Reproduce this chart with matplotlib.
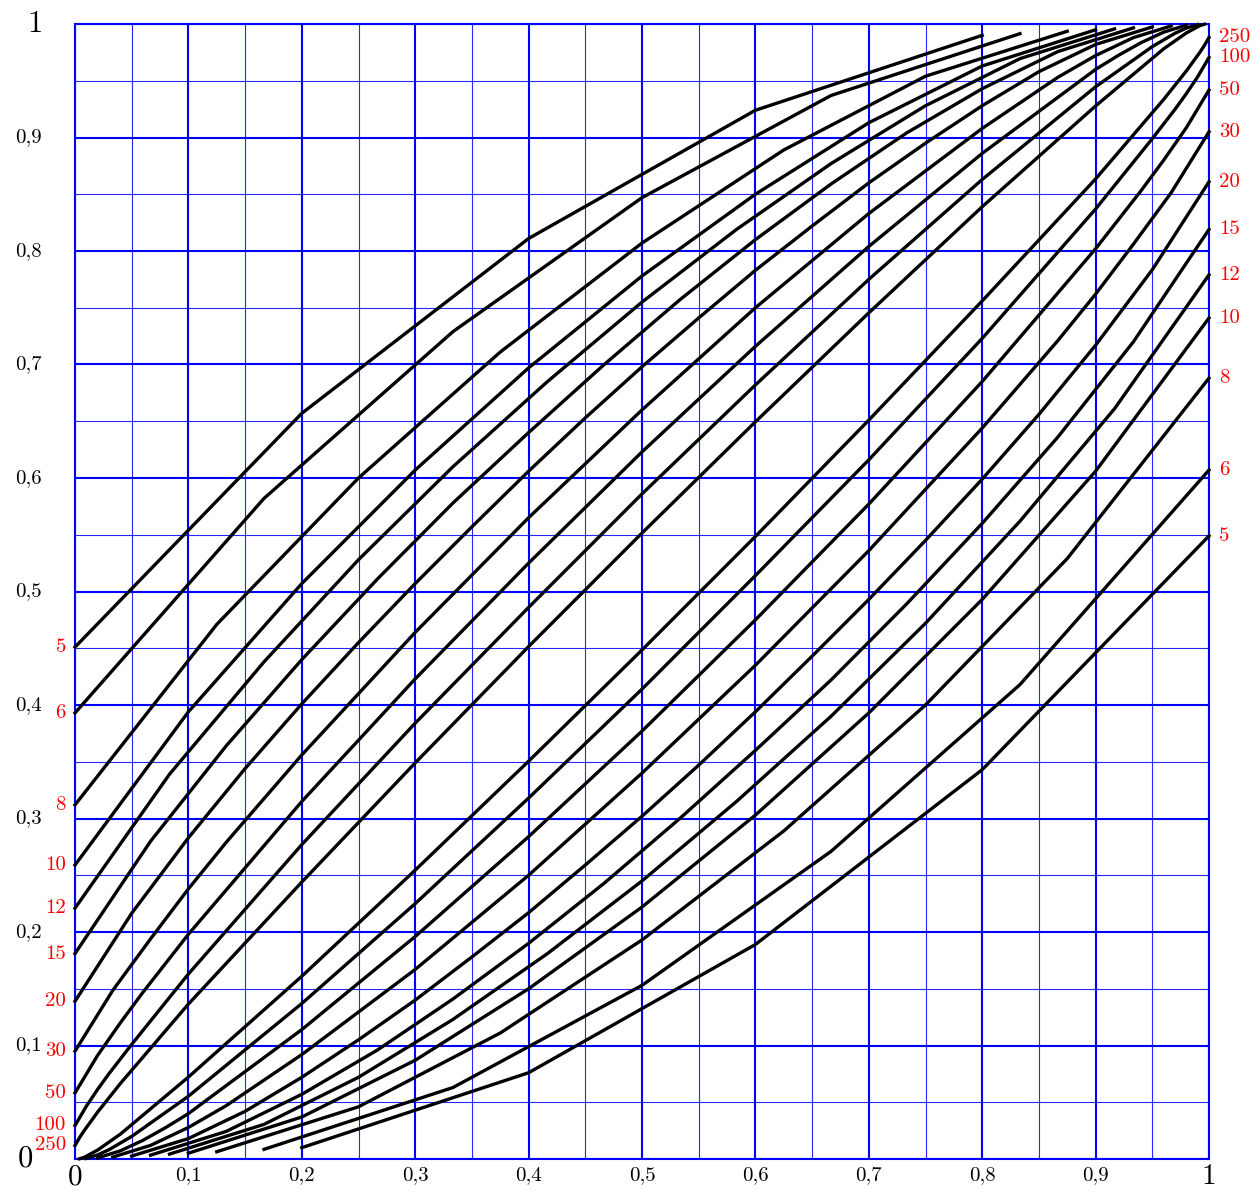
import numpy as np
import matplotlib.pyplot as plt

plt.rcParams['font.family'] = 'cmr10'
plt.rcParams['axes.unicode_minus'] = False

# sample sizes, one pair of bound curves per size
sizes = [5, 6, 8, 10, 12, 15, 20, 30, 50, 100, 250]

# number of successes k at each vertex of the upper curves
upper_k = {
    5: list(range(5)),
    6: list(range(6)),
    8: list(range(8)),
    10: list(range(10)),
    12: list(range(12)),
    15: list(range(15)),
    20: list(range(20)),
    30: [0, 1, 2, 3, 4, 6, 9, 12, 15, 18, 21, 24, 26, 27, 28, 29],
    50: [0, 1, 2, 3, 5, 10, 15, 20, 25, 30, 35, 40, 45, 46, 47, 48, 49],
    100: [0, 1, 2, 3, 5, 10, 20, 30, 40, 50, 60, 70, 80, 90, 95, 97, 98, 99],
    250: [0, 1, 2, 5, 10, 25, 50, 75, 100, 125, 150, 175, 200, 225, 240, 245, 248, 249],
}

# upper bound of p for each vertex
upper_p = {
    5: [0.451, 0.657, 0.811, 0.924, 0.990],
    6: [0.393, 0.582, 0.729, 0.847, 0.937, 0.9915],
    8: [0.312, 0.471, 0.600, 0.711, 0.807, 0.889, 0.954, 0.9936],
    10: [0.259, 0.394, 0.507, 0.607, 0.697, 0.778, 0.850, 0.913, 0.963, 0.9949],
    12: [0.221, 0.339, 0.438, 0.528, 0.610, 0.685, 0.755, 0.819, 0.877, 0.928, 0.9695, 0.9957],
    15: [0.181, 0.280, 0.364, 0.440, 0.511, 0.578, 0.640, 0.700, 0.757, 0.810, 0.859,
         0.904, 0.943, 0.9757, 0.9966],
    20: [0.139, 0.2165, 0.283, 0.344, 0.401, 0.455, 0.507, 0.557, 0.606, 0.653, 0.698,
         0.741, 0.783, 0.822, 0.860, 0.895, 0.928, 0.958, 0.982, 0.9974],
    30: [0.095, 0.1486, 0.194, 0.238, 0.279, 0.356, 0.464, 0.565, 0.660, 0.750, 0.833,
         0.908, 0.953, 0.9722, 0.988, 0.9983],
    50: [0.0582, 0.0914, 0.120, 0.147, 0.198, 0.315, 0.423, 0.525, 0.623, 0.716, 0.804,
         0.886, 0.960, 0.9723, 0.9835, 0.9928, 0.9990],
    100: [0.0295, 0.0465, 0.0614, 0.0752, 0.101, 0.163, 0.277, 0.384, 0.486, 0.586, 0.682,
          0.775, 0.863, 0.9447, 0.9801, 0.9918, 0.9964, 0.9995],
    250: [0.0119, 0.0188, 0.0249, 0.0414, 0.0665, 0.1365, 0.244, 0.349, 0.4515, 0.5515,
          0.6495, 0.7455, 0.839, 0.9278, 0.9781, 0.9921, 0.99858, 0.9998],
}

# number of successes k at each vertex of the lower curves
lower_k = {
    5: list(range(1, 6)),
    6: list(range(1, 7)),
    8: list(range(1, 9)),
    10: list(range(1, 11)),
    12: list(range(1, 13)),
    15: list(range(1, 16)),
    20: list(range(1, 21)),
    30: [1, 2, 3, 4, 6, 9, 12, 15, 18, 21, 24, 26, 27, 28, 29, 30],
    50: [1, 2, 3, 4, 5, 10, 15, 20, 25, 30, 35, 40, 45, 47, 48, 49, 50],
    100: [1, 2, 3, 5, 10, 20, 30, 40, 50, 60, 70, 80, 90, 95, 97, 98, 99, 100],
    250: [1, 2, 5, 10, 25, 50, 75, 100, 125, 150, 175, 200, 225, 240, 245, 248, 249, 250],
}

# lower bound of p for each vertex
lower_p = {
    5: [0.010, 0.076, 0.189, 0.343, 0.549],
    6: [0.0085, 0.063, 0.153, 0.271, 0.418, 0.607],
    8: [0.0064, 0.046, 0.111, 0.193, 0.289, 0.400, 0.529, 0.688],
    10: [0.0051, 0.037, 0.087, 0.150, 0.222, 0.303, 0.393, 0.493, 0.606, 0.741],
    12: [0.0043, 0.0305, 0.072, 0.123, 0.181, 0.245, 0.315, 0.390, 0.472, 0.562, 0.661, 0.779],
    15: [0.0034, 0.0243, 0.057, 0.096, 0.141, 0.190, 0.243, 0.300, 0.360, 0.422, 0.489,
         0.560, 0.636, 0.720, 0.819],
    20: [0.0026, 0.018, 0.042, 0.072, 0.105, 0.140, 0.178, 0.217, 0.259, 0.302, 0.347,
         0.394, 0.443, 0.493, 0.545, 0.599, 0.656, 0.717, 0.7835, 0.861],
    30: [0.0017, 0.012, 0.0278, 0.047, 0.092, 0.167, 0.250, 0.340, 0.435, 0.536, 0.644,
         0.721, 0.762, 0.806, 0.8514, 0.905],
    50: [0.0010, 0.0072, 0.0165, 0.0277, 0.040, 0.114, 0.196, 0.284, 0.377, 0.475, 0.577,
         0.685, 0.802, 0.853, 0.880, 0.9086, 0.9418],
    100: [0.0005, 0.0036, 0.0082, 0.0199, 0.0553, 0.137, 0.225, 0.318, 0.414, 0.514, 0.616,
          0.723, 0.837, 0.899, 0.9248, 0.9386, 0.9535, 0.9705],
    250: [0.0002, 0.0014, 0.0079, 0.0219, 0.0722, 0.161, 0.2545, 0.3505, 0.4485, 0.5485,
          0.651, 0.756, 0.8635, 0.9335, 0.9586, 0.9751, 0.9812, 0.9881],
}

tick_values = [0.1, 0.2, 0.3, 0.4, 0.5, 0.6, 0.7, 0.8, 0.9]
tick_labels = ['0,1', '0,2', '0,3', '0,4', '0,5', '0,6', '0,7', '0,8', '0,9']

fig = plt.figure(figsize=(12.58, 11.91), dpi=100)
ax = fig.add_axes([75 / 1258, 1 - 1159 / 1191, 1134 / 1258, 1135 / 1191])
ax.set_xlim(0, 1)
ax.set_ylim(0, 1)

# blue grid: heavy lines every 0.1, light ones every 0.05
ax.set_xticks(np.arange(0, 1.01, 0.1))
ax.set_yticks(np.arange(0, 1.01, 0.1))
ax.set_xticks(np.arange(0.05, 1, 0.1), minor=True)
ax.set_yticks(np.arange(0.05, 1, 0.1), minor=True)
ax.grid(which='major', color='#0000ff', lw=1.5, zorder=1)
ax.grid(which='minor', color='#0000ff', lw=0.8, alpha=0.85, zorder=1)
ax.tick_params(which='both', length=0, labelbottom=False, labelleft=False)
ax.set_axisbelow(True)
for s in ax.spines.values():
    s.set_color('#0000ff')
    s.set_linewidth(1.5)

for n in sizes:
    xu = np.array(upper_k[n]) / n
    xl = np.array(lower_k[n]) / n
    ax.plot(xu, upper_p[n], color='black', lw=2.4, zorder=3, clip_on=False)
    ax.plot(xl, lower_p[n], color='black', lw=2.4, zorder=3, clip_on=False)
    ax.text(-0.008, upper_p[n][0], str(n), color='red', fontsize=15,
            ha='right', va='center', clip_on=False)
    ax.text(1.009, lower_p[n][-1], str(n), color='red', fontsize=15,
            ha='left', va='center', clip_on=False)

for v, lab in zip(tick_values, tick_labels):
    ax.text(v, -0.014, lab, fontsize=15, ha='center', va='center', clip_on=False)
    ax.text(-0.029, v, lab, fontsize=15, ha='right', va='center', clip_on=False)

# corner values drawn larger
ax.text(0, -0.0275, '0', fontsize=21, ha='center', va='bottom', clip_on=False)
ax.text(1, -0.0275, '1', fontsize=21, ha='center', va='bottom', clip_on=False)
ax.text(-0.044, 0.0, '0', fontsize=22, ha='center', va='center', clip_on=False)
ax.text(-0.035, 1.0, '1', fontsize=22, ha='center', va='center', clip_on=False)

fig.savefig('out.png', dpi=100)
